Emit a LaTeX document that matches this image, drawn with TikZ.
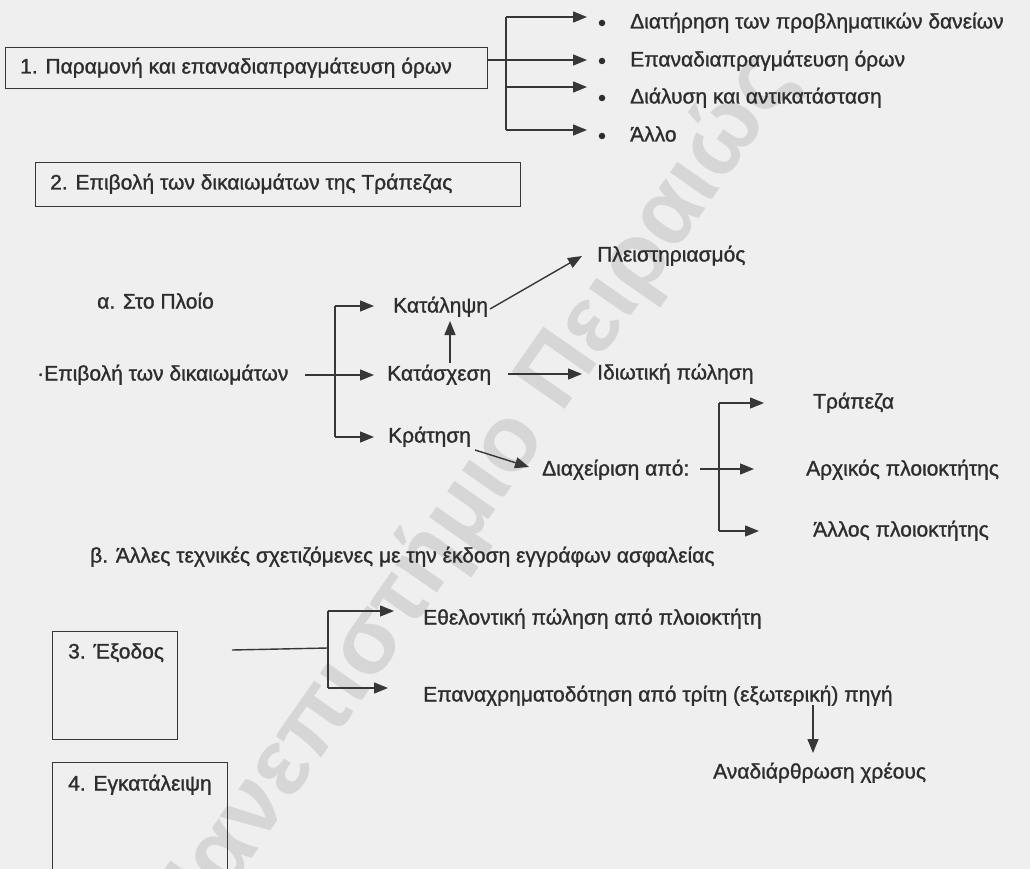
\documentclass[tikz,border=0pt]{standalone}
\usepackage{fontspec}
\setmainfont{Liberation Sans}
\newfontfamily\lblfam{Liberation Sans}[FakeBold=1.2]
\newfontfamily\wmfam{Liberation Sans Bold}
\usetikzlibrary{arrows.meta,calc}
\definecolor{bg}{RGB}{239,239,239}
\definecolor{ink}{RGB}{45,45,45}
\definecolor{lineink}{RGB}{55,55,55}
\definecolor{wm}{RGB}{214,214,214}
\newcommand{\lblfont}{\lblfam\fontsize{21}{25}\selectfont}
\newcommand{\wmfont}{\wmfam\fontsize{94}{94}\selectfont}
\begin{document}
\begin{tikzpicture}[x=1pt,y=-1pt,
  lbl/.style={inner sep=0pt, anchor=west, text height=15pt, text depth=4pt, font=\lblfont, text=ink},
  boxr/.style={draw=lineink, line width=1.2pt, inner sep=0pt, anchor=north west},
  ln/.style={draw=lineink, line width=1.4pt},
  arr/.style={ln, -{Triangle[length=14pt,width=11pt]}},
  bul/.style={circle, fill=ink, inner sep=0pt, minimum size=6.5pt},
]
\fill[bg] (0,0) rectangle (1030,869);
\useasboundingbox (0,0) rectangle (1030,869);
\clip (0,0) rectangle (1030,869);

% watermark
\node[rotate=55, font=\wmfont, text=wm, inner sep=0pt] (wmk) at (472,500) {Πανεπιστήμιο Πειραιώς};

% ---- 1 ----
\node[boxr, minimum width=482pt, minimum height=41pt] (b1) at (5,47) {};
\node[lbl] (t1) at (20,68) {1. Παραμονή και επαναδιαπραγμάτευση όρων};
\coordinate (s1) at (506,17);
\coordinate (s2) at (506,60);
\coordinate (s3) at (506,87);
\coordinate (s4) at (506,130);
\coordinate (e1) at (587,17);
\coordinate (e2) at (587,60);
\coordinate (e3) at (587,87);
\coordinate (e4) at (587,130);
\draw[ln] (b1.north east |- s2) -- (s2);
\draw[ln] (s1) -- (s4);
\draw[arr] (s1) -- (e1);
\draw[arr] (s2) -- (e2);
\draw[arr] (s3) -- (e3);
\draw[arr] (s4) -- (e4);
\node[bul] (d1) at (602,23) {};
\node[bul] (d2) at (602,61) {};
\node[bul] (d3) at (602,98) {};
\node[bul] (d4) at (602,136) {};
\node[lbl] (i1) at (630,23) {Διατήρηση των προβληματικών δανείων};
\node[lbl] (i2) at (630,61) {Επαναδιαπραγμάτευση όρων};
\node[lbl] (i3) at (630,98) {Διάλυση και αντικατάσταση};
\node[lbl] (i4) at (630,136) {Άλλο};

% ---- 2 ----
\node[boxr, minimum width=485pt, minimum height=44pt] (b2) at (35,162) {};
\node[lbl] (t2) at (50,184) {2. Επιβολή των δικαιωμάτων της Τράπεζας};

\node[lbl] (a0) at (97,303) {α. Στο Πλοίο};
\node[lbl] (e0) at (37,375) {·Επιβολή των δικαιωμάτων};
\node[lbl] (k1) at (393,307) {Κατάληψη};
\node[lbl] (k2) at (387,375) {Κατάσχεση};
\node[lbl] (k3) at (388,437) {Κράτηση};
\node[lbl] (p1) at (597,256) {Πλειστηριασμός};
\node[lbl] (p2) at (597,374) {Ιδιωτική πώληση};
\node[lbl] (m0) at (542,470) {Διαχείριση από:};
\node[lbl] (r1) at (813,403) {Τράπεζα};
\node[lbl] (r2) at (806,470) {Αρχικός πλοιοκτήτης};
\node[lbl] (r3) at (813,531) {Άλλος πλοιοκτήτης};

\coordinate (ea) at (305,375);
\coordinate (ja) at (335,306);
\coordinate (jb) at (335,437);
\coordinate (ka) at (374,306);
\coordinate (kb) at (374,375);
\coordinate (kc) at (374,437);
\draw[ln] (ja) -- (jb);
\draw[arr] (ea) -- (kb);
\draw[arr] (ja) -- (ka);
\draw[arr] (jb) -- (kc);
\coordinate (u0) at (450,363);
\coordinate (u1) at (450,321);
\draw[arr] (u0) -- (u1);
\coordinate (q0) at (490,309);
\coordinate (q1) at (582,256);
\draw[arr] (q0) -- (q1);
\coordinate (w0) at (508,374);
\coordinate (w1) at (582,374);
\draw[arr] (w0) -- (w1);
\coordinate (h0) at (475,450);
\coordinate (h1) at (529,467);
\draw[arr] (h0) -- (h1);
\coordinate (g0) at (700,469);
\coordinate (g1) at (754,469);
\coordinate (gt) at (719,403);
\coordinate (gb) at (719,531);
\coordinate (gt1) at (764,403);
\coordinate (gb1) at (759,531);
\draw[ln] (gt) -- (gb);
\draw[arr] (g0) -- (g1);
\draw[arr] (gt) -- (gt1);
\draw[arr] (gb) -- (gb1);

\node[lbl] (bb) at (90,557) {β. Άλλες τεχνικές σχετιζόμενες με την έκδοση εγγράφων ασφαλείας};

% ---- 3 ----
\node[boxr, minimum width=125pt, minimum height=108pt] (b3) at (52,631) {};
\node[lbl] (t3) at (68,653) {3. Έξοδος};
\node[lbl] (x1) at (423,619) {Εθελοντική πώληση από πλοιοκτήτη};
\node[lbl] (x2) at (423,696) {Επαναχρηματοδότηση από τρίτη (εξωτερική) πηγή};
\node[lbl] (x3) at (713,773) {Αναδιάρθρωση χρέους};
\coordinate (o0) at (232,650);
\coordinate (o1) at (328,648);
\coordinate (ot) at (328,611);
\coordinate (ob) at (328,688);
\coordinate (ot1) at (394,611);
\coordinate (ob1) at (388,688);
\draw[ln] (o0) -- (o1);
\draw[ln] (ot) -- (ob);
\draw[arr] (ot) -- (ot1);
\draw[arr] (ob) -- (ob1);
\coordinate (v0) at (813,705);
\coordinate (v1) at (813,753);
\draw[arr] (v0) -- (v1);

% ---- 4 ----
\node[boxr, minimum width=175pt, minimum height=130pt] (b4) at (52,762) {};
\node[lbl] (t4) at (68,785) {4. Εγκατάλειψη};
\end{tikzpicture}
\end{document}
